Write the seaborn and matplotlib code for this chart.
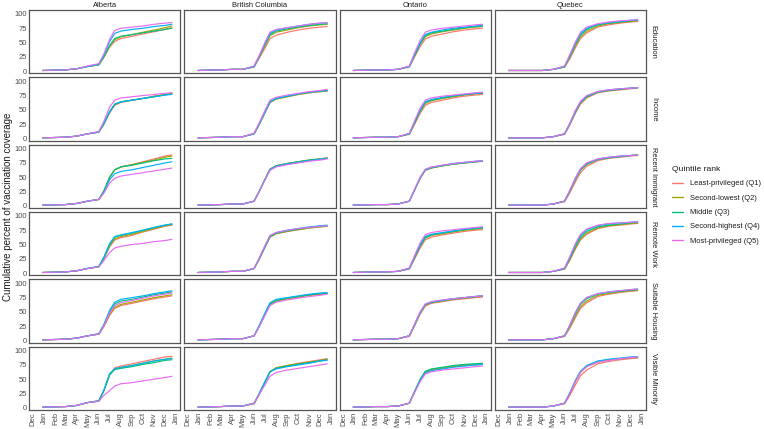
import matplotlib
matplotlib.use("Agg")
import matplotlib.pyplot as plt
from matplotlib.lines import Line2D
import seaborn as sns
import pandas as pd

# ---------------- data ----------------
provinces = ["Alberta", "British Columbia", "Ontario", "Quebec"]
indicators = ["Education", "Income", "Recent Immigrant", "Remote Work",
              "Suitable Housing", "Visible Minority"]
quintiles = ["Least-privileged (Q1)", "Second-lowest (Q2)", "Middle (Q3)",
             "Second-highest (Q4)", "Most-privileged (Q5)"]
dates = ["2020-12-28", "2021-03-01", "2021-04-01", "2021-05-01", "2021-06-01",
         "2021-06-15", "2021-07-01", "2021-07-15", "2021-08-01", "2021-09-01",
         "2021-10-01", "2021-11-01", "2021-12-01", "2021-12-20"]
month_ticks = ["2020-12-01", "2021-01-01", "2021-02-01", "2021-03-01", "2021-04-01",
               "2021-05-01", "2021-06-01", "2021-07-01", "2021-08-01", "2021-09-01",
               "2021-10-01", "2021-11-01", "2021-12-01", "2022-01-01"]
month_labels = ["Dec", "Jan", "Feb", "Mar", "Apr", "May", "Jun", "Jul", "Aug",
                "Sep", "Oct", "Nov", "Dec", "Jan"]
y_ticks = [0, 25, 50, 75, 100]

# Alberta
AB_EDU = [[1,2,4,8,11,24,42,52,57,61,65,69,73,76],
          [1,2,4,8,11,25,44,55,60,64,68,72,76,79],
          [1,2,4,8,11,25,45,57,61,64,67,70,73,75],
          [1,2,4,8,12,28,52,66,70,73,75,78,80,82],
          [1,2,4,9,13,30,56,71,75,77,79,82,84,85]]
AB_INC = [[1,2,4,8,11,25,45,58,63,67,70,74,77,79],
          [1,2,4,8,11,25,46,59,64,67,70,74,77,80],
          [1,2,4,8,11,26,47,60,64,67,70,73,76,78],
          [1,2,4,8,11,26,47,60,64,67,70,73,76,77],
          [1,2,4,8,12,30,55,67,71,73,75,77,79,80]]
AB_IMM = [[1,2,4,8,11,26,50,63,68,72,77,82,87,89],
          [1,2,4,8,11,26,50,63,68,72,76,80,85,87],
          [1,2,4,8,11,26,50,63,68,71,75,79,82,83],
          [1,2,4,8,11,24,46,56,60,63,67,71,75,77],
          [1,2,4,8,11,22,40,48,52,55,58,61,64,66]]
AB_RW = [[1,2,4,8,11,25,46,58,62,66,72,77,82,84],
         [1,2,4,8,11,26,48,60,64,68,73,78,83,85],
         [1,2,4,8,11,27,50,63,66,70,75,80,84,86],
         [1,2,4,8,12,28,52,64,67,71,75,80,84,86],
         [1,2,4,8,11,22,36,44,47,50,52,55,57,59]]
AB_HOUS = [[1,2,4,8,11,24,44,56,61,65,69,73,76,78],
           [1,2,4,8,11,25,46,58,63,67,71,75,78,80],
           [1,2,4,8,11,27,50,64,69,72,76,80,83,85],
           [1,2,4,8,12,28,53,67,72,75,78,82,85,87],
           [1,2,4,8,11,26,48,61,66,70,74,78,81,83]]
AB_VM = [[1,2,4,9,12,30,58,70,73,77,81,85,89,90],
         [1,2,4,9,12,30,58,68,70,74,78,82,85,87],
         [1,2,4,9,12,30,58,67,69,72,76,79,83,84],
         [1,2,4,9,12,31,60,68,71,74,78,82,85,86],
         [1,2,4,9,11,22,30,38,42,44,47,50,53,55]]

# British Columbia
BC_EDU = [[1,2,3,3,7,22,40,57,63,68,72,75,77,78],
          [1,2,3,3,8,24,44,62,68,72,76,79,81,82],
          [1,2,3,3,8,25,46,64,70,74,77,80,82,83],
          [1,2,3,3,8,26,48,66,72,76,79,82,84,85],
          [1,2,3,3,9,27,50,68,73,76,79,82,84,85]]
BC_INC = [[1,2,3,3,8,24,45,63,69,73,77,80,82,83],
          [1,2,3,3,8,24,45,63,69,73,77,80,82,83],
          [1,2,3,3,8,25,46,64,70,74,78,81,83,84],
          [1,2,3,3,8,25,46,64,70,74,78,81,83,84],
          [1,2,3,3,9,27,49,67,72,76,79,82,84,86]]
BC_IMM = [[1,2,3,3,8,25,46,64,70,74,77,80,82,84],
          [1,2,3,3,8,25,46,64,70,74,77,80,82,84],
          [1,2,3,3,8,25,46,64,70,74,77,80,82,83],
          [1,2,3,3,8,25,46,63,69,73,76,79,81,83],
          [1,2,3,3,8,24,45,62,68,72,75,78,80,82]]
BC_RW = [[1,2,3,3,8,24,45,63,69,73,76,79,81,82],
         [1,2,3,3,8,24,45,63,69,73,76,79,81,82],
         [1,2,3,3,8,25,46,64,70,74,77,80,82,83],
         [1,2,3,3,8,25,47,65,71,75,78,81,83,84],
         [1,2,3,3,8,26,48,66,71,75,78,80,82,83]]
BC_HOUS = [[1,2,3,3,8,24,45,63,69,73,76,79,81,82],
           [1,2,3,3,8,24,45,63,69,73,76,79,81,82],
           [1,2,3,3,8,25,46,64,70,74,77,80,82,83],
           [1,2,3,3,8,26,48,66,72,75,78,81,83,84],
           [1,2,3,3,8,24,44,61,67,71,74,77,79,81]]
BC_VM = [[1,2,3,3,7,23,44,63,70,74,78,81,84,86],
         [1,2,3,3,7,23,44,63,70,74,77,80,83,85],
         [1,2,3,3,8,24,45,63,69,73,76,79,82,84],
         [1,2,3,3,8,25,46,63,68,72,75,78,82,83],
         [1,2,3,3,8,23,40,55,62,66,69,72,75,77]]

# Ontario
ON_EDU = [[1,2,2,3,7,24,43,56,61,65,69,72,74,75],
          [1,2,2,3,8,26,47,60,65,69,72,75,77,78],
          [1,2,2,3,8,27,48,62,67,70,73,76,78,79],
          [1,2,2,3,8,28,50,64,68,72,75,77,79,80],
          [1,2,2,3,9,31,54,68,72,75,77,79,81,82]]
ON_INC = [[1,2,2,3,7,24,44,58,63,67,71,74,76,77],
          [1,2,2,3,8,26,47,61,66,70,73,76,78,79],
          [1,2,2,3,8,27,49,63,67,71,74,77,79,80],
          [1,2,2,3,8,28,50,64,68,72,75,77,79,80],
          [1,2,2,3,9,30,53,67,71,74,76,78,80,81]]
ON_IMM = [[1,2,2,3,8,27,48,62,66,70,73,75,77,78],
          [1,2,2,3,8,27,48,62,66,70,73,75,77,78],
          [1,2,2,3,8,27,49,63,67,70,73,75,77,78],
          [1,2,2,3,8,27,49,63,67,71,74,76,78,79],
          [1,2,2,3,8,28,50,64,68,71,74,76,78,79]]
ON_RW = [[1,2,2,3,7,24,44,58,63,67,70,73,75,76],
         [1,2,2,3,8,26,47,61,66,69,72,75,77,78],
         [1,2,2,3,8,27,48,62,67,70,73,76,78,79],
         [1,2,2,3,8,28,50,64,68,71,74,77,79,80],
         [1,2,2,3,9,30,53,67,71,74,76,78,80,81]]
ON_HOUS = [[1,2,2,3,7,25,46,60,65,68,71,73,75,76],
           [1,2,2,3,8,26,48,62,66,69,72,74,76,77],
           [1,2,2,3,8,27,49,63,67,70,73,75,77,78],
           [1,2,2,3,8,27,49,63,67,70,73,75,77,78],
           [1,2,2,3,8,28,50,64,68,71,73,75,77,78]]
ON_VM = [[1,2,2,3,8,27,48,62,66,69,72,74,75,76],
         [1,2,2,3,8,27,49,63,67,70,73,75,76,77],
         [1,2,2,3,8,28,50,64,68,71,74,76,77,78],
         [1,2,2,3,8,27,48,61,65,68,71,73,75,76],
         [1,2,2,3,8,26,46,59,63,66,68,70,72,73]]

# Quebec
QC_EDU = [[1,1,1,3,7,21,41,57,67,77,81,84,86,87],
          [1,1,1,3,7,23,44,60,70,79,83,85,87,88],
          [1,1,1,3,8,25,47,63,73,81,84,86,88,89],
          [1,1,1,3,8,26,49,65,75,82,85,87,89,90],
          [1,1,1,3,9,28,51,68,77,83,86,88,89,90]]
QC_INC = [[1,1,1,3,7,23,44,60,71,80,83,85,87,88],
          [1,1,1,3,8,24,46,62,72,81,84,86,88,89],
          [1,1,1,3,8,25,47,63,73,81,84,86,88,89],
          [1,1,1,3,8,25,48,64,74,82,85,87,88,89],
          [1,1,1,3,8,26,49,65,75,82,85,87,88,89]]
QC_IMM = [[1,1,1,3,7,22,42,58,69,79,83,85,87,88],
          [1,1,1,3,8,24,46,62,72,81,84,86,88,89],
          [1,1,1,3,8,25,47,63,73,81,84,86,88,89],
          [1,1,1,3,8,26,48,64,74,82,85,87,88,89],
          [1,1,1,3,8,26,49,65,75,82,85,87,88,89]]
QC_RW = [[1,1,1,3,7,22,42,58,68,78,82,84,86,87],
         [1,1,1,3,7,23,44,60,70,79,83,85,87,88],
         [1,1,1,3,8,25,47,63,73,81,84,86,88,89],
         [1,1,1,3,8,27,50,66,76,83,86,88,89,90],
         [1,1,1,3,9,28,52,68,77,84,87,88,89,90]]
QC_HOUS = [[1,1,1,3,7,21,40,56,66,77,81,84,86,87],
           [1,1,1,3,7,22,43,59,69,79,82,85,87,88],
           [1,1,1,3,8,25,47,63,73,81,84,86,88,89],
           [1,1,1,3,8,26,49,65,75,82,85,87,89,90],
           [1,1,1,3,8,26,49,65,75,82,85,87,89,90]]
QC_VM = [[1,1,1,3,7,21,40,56,66,77,81,84,86,87],
         [1,1,1,3,8,24,46,62,72,80,84,86,88,89],
         [1,1,1,3,8,25,47,63,73,81,84,86,88,89],
         [1,1,1,3,8,25,48,64,74,82,85,87,89,89],
         [1,1,1,3,8,24,46,62,72,80,83,86,88,89]]

panels = {
    "Alberta": [AB_EDU, AB_INC, AB_IMM, AB_RW, AB_HOUS, AB_VM],
    "British Columbia": [BC_EDU, BC_INC, BC_IMM, BC_RW, BC_HOUS, BC_VM],
    "Ontario": [ON_EDU, ON_INC, ON_IMM, ON_RW, ON_HOUS, ON_VM],
    "Quebec": [QC_EDU, QC_INC, QC_IMM, QC_RW, QC_HOUS, QC_VM],
}
colors = ["#F8766D", "#A3A500", "#00BF7D", "#00B0F6", "#E76BF3"]

# --------------- long table ---------------
rows = []
dts = pd.to_datetime(dates)
for prov in provinces:
    for ind, block in zip(indicators, panels[prov]):
        for q, series in zip(quintiles, block):
            for d, v in zip(dts, series):
                rows.append((prov, ind, q, d, v))
df = pd.DataFrame(rows, columns=["province", "indicator", "quintile", "date", "value"])

# --------------- plot ---------------
sns.set_theme(style="white")
plt.rcParams["font.family"] = ["Liberation Sans", "DejaVu Sans"]

W, H = 764, 429
fig = plt.figure(figsize=(W / 100, H / 100), dpi=100)
left, right, top, bottom = 29, 646, 10, 410
gap = 4
pw = (right - left - 3 * gap) / 4
ph = (bottom - top - 5 * gap) / 6

xlo = pd.Timestamp("2020-11-20")
xhi = pd.Timestamp("2022-01-12")
tick_dates = pd.to_datetime(month_ticks)
border = "#555555"
txt = "#4D4D4D"
dark = "#1A1A1A"

for r, ind in enumerate(indicators):
    for c, prov in enumerate(provinces):
        x0 = left + c * (pw + gap)
        y0 = top + r * (ph + gap)
        ax = fig.add_axes([x0 / W, 1 - (y0 + ph) / H, pw / W, ph / H])
        sub = df[(df.province == prov) & (df.indicator == ind)]
        sns.lineplot(data=sub, x="date", y="value", hue="quintile",
                     hue_order=quintiles, palette=colors, ax=ax,
                     legend=False, linewidth=0.85, estimator=None)
        ax.set_xlim(xlo, xhi)
        ax.set_ylim(-4, 107)
        ax.set_xlabel("")
        ax.set_ylabel("")
        ax.set_xticks(tick_dates)
        ax.set_yticks(y_ticks)
        ax.tick_params(length=0, pad=1.5, colors=txt, labelsize=5.5)
        if r == 5:
            ax.set_xticklabels(month_labels, rotation=90)
        else:
            ax.set_xticklabels([])
        if c == 0:
            ax.set_yticklabels([str(v) for v in y_ticks])
        else:
            ax.set_yticklabels([])
        for s in ax.spines.values():
            s.set_color(border)
            s.set_linewidth(0.9)
        ax.grid(False)
        if r == 0:
            ax.set_title(prov, fontsize=5.4, color=dark, pad=2.5)
        if c == 3:
            ax.text(1.025, 0.5, ind, transform=ax.transAxes, rotation=-90,
                    ha="left", va="center", fontsize=5.4, color=dark)

fig.text(8 / W, 1 - 207 / H, "Cumulative percent of vaccination coverage",
         rotation=90, ha="center", va="center", fontsize=7, color=dark)

handles = [Line2D([0], [0], color=col, lw=1.0) for col in colors]
leg = fig.legend(handles, quintiles, title="Quintile rank",
                 loc="upper left", bbox_to_anchor=(672 / W, 1 - 166 / H),
                 frameon=False, fontsize=5.4, title_fontsize=6.1,
                 handlelength=1.5, handletextpad=0.9, labelspacing=0.95,
                 borderaxespad=0, borderpad=0)
leg._legend_box.align = "left"
leg.get_title().set_color(dark)
for t in leg.get_texts():
    t.set_color(dark)

fig.savefig("out.png", dpi=100)
